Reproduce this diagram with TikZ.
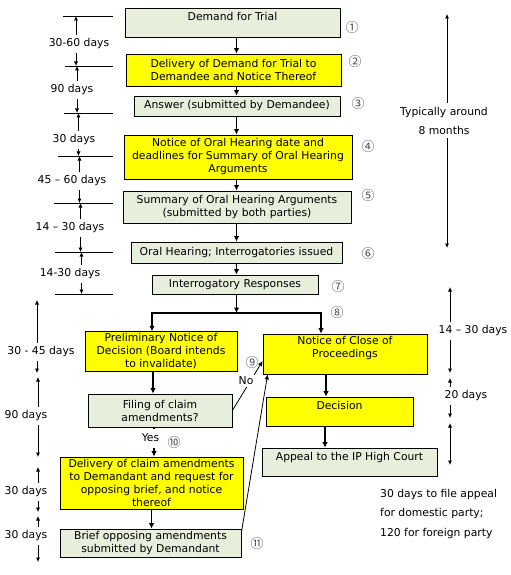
\documentclass[tikz,border=0pt]{standalone}
\usepackage{fontspec}
\setmainfont{DejaVu Sans}
\newfontfamily\cjk{Noto Sans CJK JP}
\usetikzlibrary{arrows.meta}
\definecolor{boxgreen}{HTML}{E7EFDC}
\definecolor{boxyellow}{HTML}{FFFF00}

\begin{document}
\begin{tikzpicture}[x=1bp, y=-1bp,
    every node/.style={font=\fontsize{10.8bp}{13bp}\selectfont},
    box/.style={draw, line width=0.75bp, align=center, inner xsep=2bp, inner ysep=2bp},
    gbox/.style={box, fill=boxgreen},
    ybox/.style={box, fill=boxyellow},
    flowarrow/.style={-{Latex[length=5.5bp,width=5.5bp]}, line width=1.3bp},
    slantarrow/.style={-{Latex[length=5bp,width=4.5bp]}, line width=0.8bp},
    spanarrow/.style={-{Latex[length=4.5bp,width=4bp]}, line width=0.7bp},
    tickline/.style={line width=0.7bp},
    days/.style={inner xsep=1bp, inner ysep=4bp},
    stepnum/.style={font=\cjk\fontsize{13bp}{13bp}\selectfont, text=black!70, inner sep=0.5bp},
  ]
  \useasboundingbox (0,0) rectangle (511,575);

  \node[gbox, minimum width=215bp, minimum height=29bp, text depth=13bp] (trial) at (232.5,22.5) {Demand for Trial};
  \node[ybox, minimum width=215bp, minimum height=32bp] (deliv) at (233.5,70) {Delivery of Demand for Trial to\\Demandee and Notice Thereof};
  \node[gbox, minimum width=206bp, minimum height=20bp] (answer) at (237,106) {Answer (submitted by Demandee)};
  \node[ybox, minimum width=228bp, minimum height=44bp] (notice) at (238,157) {Notice of Oral Hearing date and\\deadlines for Summary of Oral Hearing\\Arguments};
  \node[gbox, minimum width=228bp, minimum height=32bp] (summary) at (237,207) {Summary of Oral Hearing Arguments\\(submitted by both parties)};
  \node[gbox, minimum width=211bp, minimum height=21bp] (oral) at (236.5,252.5) {Oral Hearing; Interrogatories issued};
  \node[gbox, minimum width=166bp, minimum height=19bp] (interr) at (235,284.5) {Interrogatory Responses};
  \node[ybox, minimum width=152bp, minimum height=39bp] (prelim) at (161,351.5) {Preliminary Notice of\\Decision (Board intends\\to invalidate)};
  \node[ybox, minimum width=164bp, minimum height=40bp, text depth=13.5bp] (close) at (345,354) {Notice of Close of\\Proceedings};
  \node[gbox, minimum width=144bp, minimum height=33bp] (filing) at (160,410.5) {Filing of claim\\amendments?};
  \node[ybox, minimum width=147bp, minimum height=29bp, text depth=13bp] (decision) at (339.5,411.5) {Decision};
  \node[gbox, minimum width=175bp, minimum height=28bp, text depth=12bp] (appeal) at (349.5,462) {Appeal to the IP High Court};
  \node[ybox, minimum width=183bp, minimum height=52bp] (amend) at (151.5,483) {Delivery of claim amendments\\to Demandant and request for\\opposing brief, and notice\\thereof};
  \node[gbox, minimum width=181bp, minimum height=28bp] (brief) at (150.5,543) {Brief opposing amendments\\submitted by Demandant};

  \coordinate (spine) at (236.5,0);
  \draw[flowarrow] (trial.south -| spine) -- (deliv.north -| spine);
  \draw[flowarrow] (deliv.south -| spine) -- (answer.north -| spine);
  \draw[flowarrow] (answer.south -| spine) -- (notice.north -| spine);
  \draw[flowarrow] (notice.south -| spine) -- (summary.north -| spine);
  \draw[flowarrow] (summary.south -| spine) -- (oral.north -| spine);
  \draw[flowarrow] (oral.south -| spine) -- (interr.north -| spine);

  \coordinate (fork) at (236.5,313);
  \coordinate (forkL) at (152,313);
  \coordinate (forkR) at (321,313);
  \draw[flowarrow] (interr.south -| spine) -- (fork);
  \draw[line width=1.6bp] ([xshift=-0.8bp]forkL) -- ([xshift=0.8bp]forkR);
  \draw[flowarrow] (forkL) -- (prelim.north -| forkL);
  \draw[flowarrow] (forkR) -- (close.north -| forkR);

  \draw[flowarrow] ([xshift=-8bp]prelim.south) -- ([xshift=-8bp]prelim.south |- filing.north);
  \draw[flowarrow] ([xshift=-6bp]filing.south) -- ([xshift=-6bp]filing.south |- amend.north);
  \draw[flowarrow] (amend.south) -- (amend.south |- brief.north);
  \draw[flowarrow] ([xshift=-19bp]close.south) -- ([xshift=-19bp]close.south |- decision.north);
  \draw[flowarrow] ([xshift=-14.5bp]decision.south) -- ([xshift=-14.5bp]decision.south |- appeal.north);

  \draw[slantarrow] (filing.east) -- ([yshift=-7bp]close.west)
    node[pos=0.6, xshift=-4.5bp, fill=white, inner sep=2bp] (no) {No};
  \draw[slantarrow] ([yshift=-4bp]brief.north east) -- ([xshift=5bp]close.south west);
  \node[fill=white, minimum width=35bp, minimum height=19bp, inner sep=0bp] (yes) at (150.5,438) {Yes};

  \foreach \ty/\tx [count=\i from 0] in {16/63, 66/65, 113/64, 156/58, 203/54, 252/55, 294/55} {
    \coordinate (T\i) at (113,\ty);
    \draw[tickline] (\tx,\ty) -- (T\i);
  }
  \foreach \txt/\lx/\ly/\ax [count=\i, evaluate=\i as \prev using int(\i-1)] in
      {30-60 days/79/44/76, 90 days/72/90/77, 30 days/74/140/78.5,
       45 – 60 days/72/181/79.5, 14 – 30 days/70/228/80.5, 14-30 days/70/274/81.5} {
    \node[days] (d\i) at (\lx,\ly) {\txt};
    \coordinate (a\i) at (\ax,\ly);
    \draw[spanarrow] (a\i |- d\i.north) -- (a\i |- T\prev);
    \draw[spanarrow] (a\i |- d\i.south) -- (a\i |- T\i);
  }

  \foreach \txt/\lx/\ly/\ax/\up/\dn [count=\i] in
      {30 - 45 days/41/352/37/300/373, 90 days/26/416/38/377/457,
       30 days/26/492/38/467/512, 30 days/26/536/38/516/562} {
    \node[days] (e\i) at (\lx,\ly) {\txt};
    \coordinate (eu\i) at (\ax,\up);
    \coordinate (ed\i) at (\ax,\dn);
    \draw[spanarrow] (eu\i |- e\i.north) -- (eu\i);
    \draw[spanarrow] (ed\i |- e\i.south) -- (ed\i);
  }

  \node[days, align=center, font=\fontsize{10.8bp}{19bp}\selectfont] (months) at (444,120.5) {Typically around\\8 months};
  \coordinate (mtop) at (447,14);
  \coordinate (mbot) at (447,248);
  \draw[spanarrow] (mtop |- months.north) -- (mtop);
  \draw[spanarrow] (mbot |- months.south) -- (mbot);

  \node[days] (r1) at (473,331) {14 – 30 days};
  \node[days] (r2) at (466,396) {20 days};
  \coordinate (r1top) at (450,287);
  \coordinate (r1bot) at (450,373);
  \coordinate (r2top) at (450,378);
  \coordinate (r2bot) at (450,418);
  \coordinate (r3top) at (450,423);
  \coordinate (r3bot) at (450,465);
  \draw[spanarrow] (r1top |- r1.north) -- (r1top);
  \draw[spanarrow] (r1bot |- r1.south) -- (r1bot);
  \draw[spanarrow] (r2top |- r2.north) -- (r2top);
  \draw[spanarrow] (r2bot |- r2.south) -- (r2bot);
  \draw[spanarrow, {Latex[length=4.5bp,width=4bp]}-{Latex[length=4.5bp,width=4bp]}] (r3top) -- (r3bot);

  \node[days, align=left, anchor=north west, font=\fontsize{10.8bp}{19.5bp}\selectfont] (appealnote) at (379,485) {30 days to file appeal\\for domestic party;\\120 for foreign party};

  \foreach \sym/\px/\py [count=\i] in {①/352/28, ②/355/62, ③/358/104, ④/368/147, ⑤/368/196, ⑥/368/254,
      ⑦/338/287, ⑧/337/313, ⑨/252/363, ⑩/174/443, ⑪/257/544} {
    \node[stepnum] (n\i) at (\px,\py) {\sym};
  }
\end{tikzpicture}
\end{document}
